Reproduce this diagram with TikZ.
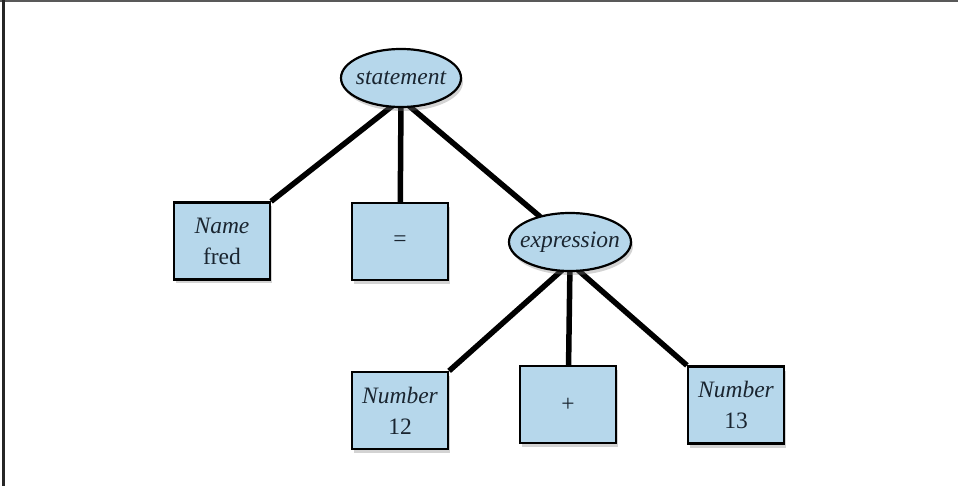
\documentclass[tikz,border=0pt]{standalone}
\usepackage{fontspec}
\setmainfont{Liberation Serif}
\usetikzlibrary{shapes.geometric,shadows,backgrounds}
\definecolor{nodefill}{HTML}{B6D7EB}
\definecolor{txt}{HTML}{1A2530}
\tikzset{
  base/.style={draw=black, line width=2.2pt, fill=nodefill, text=txt,
    font=\fontsize{23.5}{31}\selectfont, align=center, inner sep=0pt,
    drop shadow={opacity=0.35, shadow xshift=2pt, shadow yshift=-4pt}},
  ell/.style={base, ellipse, minimum width=120pt, minimum height=58pt},
  box/.style={base, rectangle, minimum width=96pt, minimum height=77pt},
  edge/.style={line width=5.5pt, black}
}
\begin{document}
\begin{tikzpicture}[x=1pt,y=-1pt]
\useasboundingbox (0,0) rectangle (958,486);
\coordinate (tl) at (0,1.5);
\coordinate (tr) at (958,1.5);
\coordinate (lt) at (3.5,0);
\coordinate (lb) at (3.5,486);
\draw[line width=2pt, black!65] (tl) -- (tr);
\draw[line width=2.2pt, black!85] (lt) -- (lb);

\node[ell] (stmt) at (401,78) {\makebox[0pt]{\itshape statement}};
\node[box] (name) at (222,241) {\itshape Name\\fred};
\node[box] (eq) at (400,241.5) {=};
\node[ell, minimum width=122pt] (expr) at (570,242) {\makebox[0pt]{\itshape expression}};
\node[box] (n12) at (400,410.5) {\itshape Number\\12};
\node[box] (plus) at (568,404.5) {+};
\node[box] (n13) at (736,405) {\itshape Number\\13};

\coordinate (shub) at ([yshift=9pt]stmt.south);
\coordinate (ehub) at ([yshift=9pt]expr.south);

\begin{scope}[on background layer]
\draw[edge] (shub) -- (name.north east);
\draw[edge] (shub) -- (eq.center);
\draw[edge] (shub) -- (expr.center);
\draw[edge] (ehub) -- (n12.north east);
\draw[edge] (ehub) -- (plus.center);
\draw[edge] (ehub) -- (n13.north west);
\end{scope}
\end{tikzpicture}
\end{document}
